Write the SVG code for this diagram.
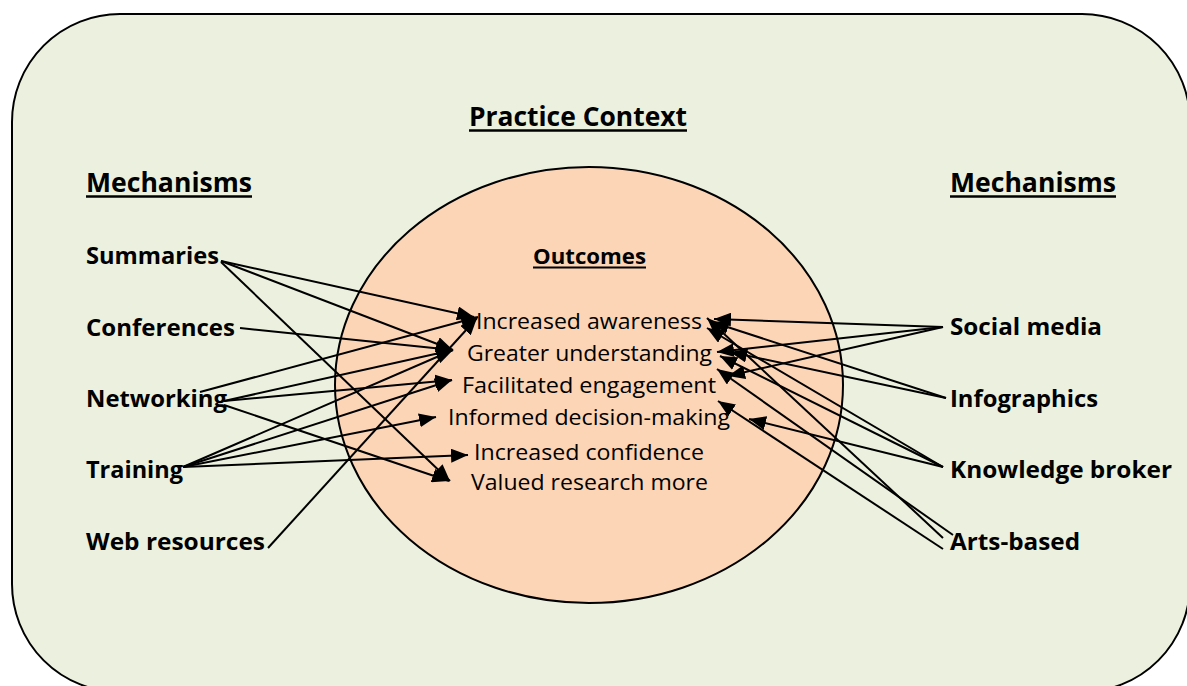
<svg xmlns="http://www.w3.org/2000/svg" width="1187" height="686" viewBox="0 0 1187 686">
  <style>
    .frame { fill: #EBF1DE; stroke: #000; stroke-width: 2; }
    .oval { fill: #FBD5B5; stroke: #000; stroke-width: 2; }
    .head { font-family: "Open Sans", "Liberation Sans", sans-serif; font-weight: bold; font-size: 26px; fill: #000; }
    .label { font-family: "Open Sans", "Liberation Sans", sans-serif; font-weight: bold; font-size: 24px; fill: #000; }
    .sub { font-family: "Open Sans", "Liberation Sans", sans-serif; font-weight: bold; font-size: 21px; fill: #000; }
    .out { font-family: "Open Sans", "Liberation Sans", sans-serif; font-size: 21px; fill: #000; }
    .ul { stroke: #000; stroke-width: 2.5; }
    .link { stroke: #000; stroke-width: 2; fill: none; marker-end: url(#tip); }
  </style>
  <defs>
    <marker id="tip" markerUnits="userSpaceOnUse" markerWidth="18" markerHeight="14" refX="17" refY="7" orient="auto">
      <path d="M0,0 L17,7 L0,14 Z" fill="#000"/>
    </marker>
  </defs>

  <!-- outer practice context panel -->
  <g id="context">
    <rect class="frame" x="12" y="14" width="1178" height="678" rx="108" ry="108"/>
    <text class="head" x="469" y="126" textLength="218" lengthAdjust="spacingAndGlyphs">Practice Context</text>
    <line class="ul" x1="469" y1="130.5" x2="687" y2="130.5"/>
  </g>

  <!-- outcomes oval -->
  <g id="outcomes">
    <ellipse class="oval" cx="589" cy="385" rx="254" ry="218"/>
    <text class="sub" x="533" y="264" textLength="113" lengthAdjust="spacingAndGlyphs">Outcomes</text>
    <line x1="533" y1="267.5" x2="646" y2="267.5" stroke="#000" stroke-width="1.8"/>
  </g>
  <g id="o-awareness"><text class="out" x="476" y="329" textLength="226" lengthAdjust="spacingAndGlyphs">Increased awareness</text></g>
  <g id="o-understanding"><text class="out" x="467" y="361" textLength="245" lengthAdjust="spacingAndGlyphs">Greater understanding</text></g>
  <g id="o-engagement"><text class="out" x="462" y="393" textLength="254" lengthAdjust="spacingAndGlyphs">Facilitated engagement</text></g>
  <g id="o-decision"><text class="out" x="448" y="425" textLength="282" lengthAdjust="spacingAndGlyphs">Informed decision-making</text></g>
  <g id="o-confidence"><text class="out" x="474" y="460" textLength="230" lengthAdjust="spacingAndGlyphs">Increased confidence</text></g>
  <g id="o-valued"><text class="out" x="471" y="490" textLength="237" lengthAdjust="spacingAndGlyphs">Valued research more</text></g>

  <!-- left-hand mechanisms -->
  <g id="mech-left">
    <text class="head" x="86" y="192" textLength="166" lengthAdjust="spacingAndGlyphs">Mechanisms</text>
    <line class="ul" x1="86" y1="196.5" x2="252" y2="196.5"/>
  </g>
  <g id="m-summaries"><text class="label" x="86" y="264" textLength="133" lengthAdjust="spacingAndGlyphs">Summaries</text></g>
  <g id="m-conferences"><text class="label" x="86" y="336" textLength="149" lengthAdjust="spacingAndGlyphs">Conferences</text></g>
  <g id="m-networking"><text class="label" x="86" y="407" textLength="141" lengthAdjust="spacingAndGlyphs">Networking</text></g>
  <g id="m-training"><text class="label" x="86" y="478" textLength="97" lengthAdjust="spacingAndGlyphs">Training</text></g>
  <g id="m-web"><text class="label" x="86" y="550" textLength="179" lengthAdjust="spacingAndGlyphs">Web resources</text></g>

  <!-- right-hand mechanisms -->
  <g id="mech-right">
    <text class="head" x="950" y="192" textLength="166" lengthAdjust="spacingAndGlyphs">Mechanisms</text>
    <line class="ul" x1="950" y1="196.5" x2="1116" y2="196.5"/>
  </g>
  <g id="m-social"><text class="label" x="950" y="335" textLength="152" lengthAdjust="spacingAndGlyphs">Social media</text></g>
  <g id="m-infographics"><text class="label" x="950" y="407" textLength="148" lengthAdjust="spacingAndGlyphs">Infographics</text></g>
  <g id="m-broker"><text class="label" x="950" y="478" textLength="222" lengthAdjust="spacingAndGlyphs">Knowledge broker</text></g>
  <g id="m-arts"><text class="label" x="950" y="550" textLength="130" lengthAdjust="spacingAndGlyphs">Arts-based</text></g>

  <!-- connectors: mechanism to outcome -->
  <g id="connectors">
    <line class="link" x1="221" y1="261" x2="474" y2="317"/>
    <line class="link" x1="221" y1="261" x2="453" y2="350"/>
    <line class="link" x1="221" y1="262" x2="450" y2="481"/>
    <line class="link" x1="240" y1="328" x2="453" y2="350"/>
    <line class="link" x1="200" y1="392" x2="478" y2="317"/>
    <line class="link" x1="224" y1="401" x2="453" y2="350"/>
    <line class="link" x1="224" y1="401" x2="452" y2="380"/>
    <line class="link" x1="224" y1="405" x2="449" y2="481"/>
    <line class="link" x1="183" y1="467" x2="453" y2="350"/>
    <line class="link" x1="183" y1="467" x2="452" y2="380"/>
    <line class="link" x1="183" y1="467" x2="436" y2="417"/>
    <line class="link" x1="183" y1="467" x2="468" y2="455"/>
    <line class="link" x1="268" y1="548" x2="477" y2="318"/>

    <line class="link" x1="943" y1="327" x2="714" y2="319"/>
    <line class="link" x1="943" y1="327" x2="717" y2="352"/>
    <line class="link" x1="943" y1="327" x2="728" y2="376"/>
    <line class="link" x1="946" y1="398" x2="712" y2="322"/>
    <line class="link" x1="946" y1="398" x2="730" y2="352"/>
    <line class="link" x1="943" y1="467" x2="707" y2="328"/>
    <line class="link" x1="943" y1="467" x2="720" y2="356"/>
    <line class="link" x1="943" y1="467" x2="749" y2="419"/>
    <line class="link" x1="943" y1="538" x2="707" y2="318"/>
    <line class="link" x1="953" y1="535" x2="717" y2="369"/>
    <line class="link" x1="943" y1="549" x2="718" y2="401"/>
  </g>
</svg>
